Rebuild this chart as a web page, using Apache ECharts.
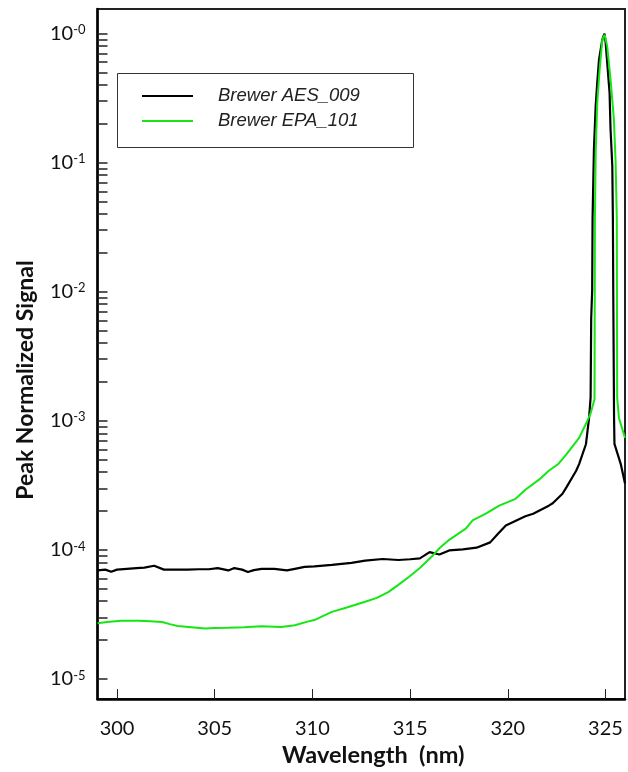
<!DOCTYPE html>
<html>
<head>
<meta charset="utf-8">
<script src="https://cdn.jsdelivr.net/npm/echarts@6/dist/echarts.min.js"></script>
<style>
html,body{margin:0;padding:0;background:#fff;}
#chart{width:628px;height:772px;}
</style>
</head>
<body>
<div id="chart"></div>
<script>
// ---- data ----
const seriesNames = ['Brewer AES_009', 'Brewer EPA_101'];

const aesWavelength = [299.0, 299.4, 299.7, 300.0, 300.5, 301.0, 301.4, 301.9, 302.4, 303.0, 303.6, 304.2, 304.7, 305.15, 305.7, 306.0, 306.4, 306.7, 307.0, 307.4, 308.05, 308.7, 309.1, 309.6, 310.1, 311.0, 312.0, 312.7, 313.6, 314.4, 315.0, 315.5, 316.0, 316.5, 317.0, 317.7, 318.4, 319.1, 319.5, 319.9, 320.6, 320.9, 321.3, 322.1, 322.3, 322.8, 323.0, 323.5, 323.65, 324.0, 324.16, 324.24, 324.27, 324.32, 324.34, 324.41, 324.50, 324.58, 324.67, 324.84, 324.95, 325.01, 325.09, 325.21, 325.26, 325.35, 325.38, 325.40, 325.44, 325.46, 325.78, 326.0];
const aesSignal = [6.94e-5, 7.03e-5, 6.77e-5, 7.03e-5, 7.13e-5, 7.23e-5, 7.28e-5, 7.53e-5, 7.03e-5, 7.03e-5, 7.03e-5, 7.08e-5, 7.08e-5, 7.23e-5, 6.93e-5, 7.23e-5, 7.03e-5, 6.73e-5, 6.97e-5, 7.13e-5, 7.13e-5, 6.93e-5, 7.13e-5, 7.38e-5, 7.44e-5, 7.64e-5, 7.94e-5, 8.25e-5, 8.5e-5, 8.35e-5, 8.46e-5, 8.6e-5, 9.6e-5, 9.2e-5, 9.9e-5, 1.01e-4, 1.04e-4, 1.143e-4, 1.334e-4, 1.546e-4, 1.737e-4, 1.822e-4, 1.906e-4, 2.2e-4, 2.295e-4, 2.72e-4, 3.05e-4, 4.1e-4, 4.62e-4, 6.58e-4, 1.05e-3, 1.51e-3, 6.22e-3, 1.03e-2, 3.69e-2, 0.1275, 0.275, 0.416, 0.628, 0.90, 1.0, 0.85, 0.593, 0.349, 0.182, 0.094, 0.0369, 9.3e-3, 1.05e-3, 6.63e-4, 4.64e-4, 3.27e-4];

const epaWavelength = [299.0, 299.5, 300.2, 301.1, 301.7, 302.3, 302.7, 303.1, 303.8, 304.5, 305.0, 305.7, 306.5, 307.4, 308.4, 309.1, 309.75, 310.1, 310.5, 311.0, 311.8, 312.7, 313.3, 313.9, 314.4, 314.95, 315.5, 316.15, 316.5, 317.0, 317.85, 318.2, 318.9, 319.56, 320.4, 320.9, 321.6, 322.1, 322.6, 323.0, 323.65, 324.07, 324.25, 324.32, 324.44, 324.46, 324.50, 324.58, 324.70, 324.84, 324.96, 325.0, 325.09, 325.26, 325.43, 325.52, 325.58, 325.60, 325.69, 326.0];
const epaSignal = [2.70e-5, 2.76e-5, 2.83e-5, 2.83e-5, 2.80e-5, 2.76e-5, 2.66e-5, 2.57e-5, 2.52e-5, 2.46e-5, 2.48e-5, 2.49e-5, 2.52e-5, 2.56e-5, 2.53e-5, 2.61e-5, 2.78e-5, 2.86e-5, 3.05e-5, 3.31e-5, 3.59e-5, 3.96e-5, 4.25e-5, 4.73e-5, 5.36e-5, 6.2e-5, 7.25e-5, 9.0e-5, 1.03e-4, 1.196e-4, 1.462e-4, 1.695e-4, 1.917e-4, 2.2e-4, 2.485e-4, 2.92e-4, 3.5e-4, 4.1e-4, 4.65e-4, 5.49e-4, 7.37e-4, 9.97e-4, 1.154e-3, 1.26e-3, 1.47e-3, 3.69e-2, 0.1205, 0.292, 0.525, 0.90, 0.98, 1.0, 0.796, 0.442, 0.218, 0.101, 0.0369, 1.51e-3, 1.05e-3, 7.37e-4];

const xTickValues = [300, 305, 310, 315, 320, 325];
const yDecades = [1e-5, 1e-4, 1e-3, 1e-2, 1e-1, 1];
const minorMultipliers = [1, 2, 3, 4, 5, 6, 7, 8, 9];

// ---- build options ----
const yTickValues = [];
yDecades.forEach(function (d) {
  if (d === 1) { yTickValues.push(1); return; }
  minorMultipliers.forEach(function (m) { yTickValues.push(+(m * d).toPrecision(3)); });
});

function pairs(xs, ys) { return xs.map(function (x, i) { return [x, ys[i]]; }); }

const chart = echarts.init(document.getElementById('chart'), null, { renderer: 'canvas' });
const option = {
  animation: false,
  backgroundColor: '#ffffff',
  grid: {
    left: 97.5, right: 3, top: 9, bottom: 69,
    show: true, borderColor: '#222', borderWidth: 2, containLabel: false
  },
  graphic: [{
    type: 'rect',
    shape: { x: 117.5, y: 73.5, width: 296, height: 74 },
    style: { fill: '#fff', stroke: '#333', lineWidth: 1 },
    z: 5
  }],
  legend: {
    data: seriesNames,
    orient: 'vertical',
    left: 141, top: 86,
    padding: 0,
    itemWidth: 51, itemHeight: 20, itemGap: 5,
    z: 10,
    itemStyle: { opacity: 0 },
    textStyle: {
      fontFamily: 'Liberation Sans', fontStyle: 'italic', fontSize: 18.5,
      color: '#222', lineHeight: 20, padding: [0, 0, 0, 20]
    }
  },
  xAxis: {
    type: 'value', min: 299, max: 326,
    axisLine: { show: true, lineStyle: { color: '#000', width: 2.5 } },
    axisTick: { show: true, inside: true, length: 10, customValues: xTickValues, lineStyle: { color: '#222', width: 1 } },
    axisLabel: {
      customValues: xTickValues, margin: 19,
      fontFamily: 'Lato', fontSize: 20, color: '#111'
    },
    splitLine: { show: false },
    name: 'Wavelength  (nm)', nameLocation: 'middle', nameGap: 43,
    nameTextStyle: { fontFamily: 'Lato', fontWeight: 'bold', fontSize: 23.5, color: '#111', padding: [0, 0, 0, 24] }
  },
  yAxis: {
    type: 'log', min: Math.pow(10, -5.156), max: Math.pow(10, 0.19), logBase: 10,
    axisLine: { show: true, lineStyle: { color: '#000', width: 2.5 } },
    axisTick: { show: true, inside: true, length: 10, customValues: yTickValues, lineStyle: { color: '#222', width: 1.5 } },
    axisLabel: {
      customValues: yDecades, margin: 12,
      formatter: function (v) {
        const e = Math.round(-Math.log10(v));
        return '{n|10}{s|-' + e + '}';
      },
      rich: {
        n: { fontFamily: 'Lato', fontSize: 20, color: '#111', lineHeight: 20 },
        s: { fontFamily: 'Lato', fontSize: 13, color: '#111', lineHeight: 13, verticalAlign: 'top' }
      }
    },
    splitLine: { show: false },
    name: 'Peak Normalized Signal', nameLocation: 'middle', nameGap: 60,
    nameTextStyle: { fontFamily: 'Lato', fontWeight: 'bold', fontSize: 23, color: '#111', padding: [0, 52, 0, 0] }
  },
  series: [
    {
      name: seriesNames[0], type: 'line', symbol: 'none', showSymbol: false,
      data: pairs(aesWavelength, aesSignal),
      lineStyle: { color: '#000', width: 2.2 }, itemStyle: { color: '#000' }, z: 3
    },
    {
      name: seriesNames[1], type: 'line', symbol: 'none', showSymbol: false,
      data: pairs(epaWavelength, epaSignal),
      lineStyle: { color: '#16e616', width: 2 }, itemStyle: { color: '#16e616' }, z: 4
    }
  ]
};
chart.setOption(option);
</script>
</body>
</html>
